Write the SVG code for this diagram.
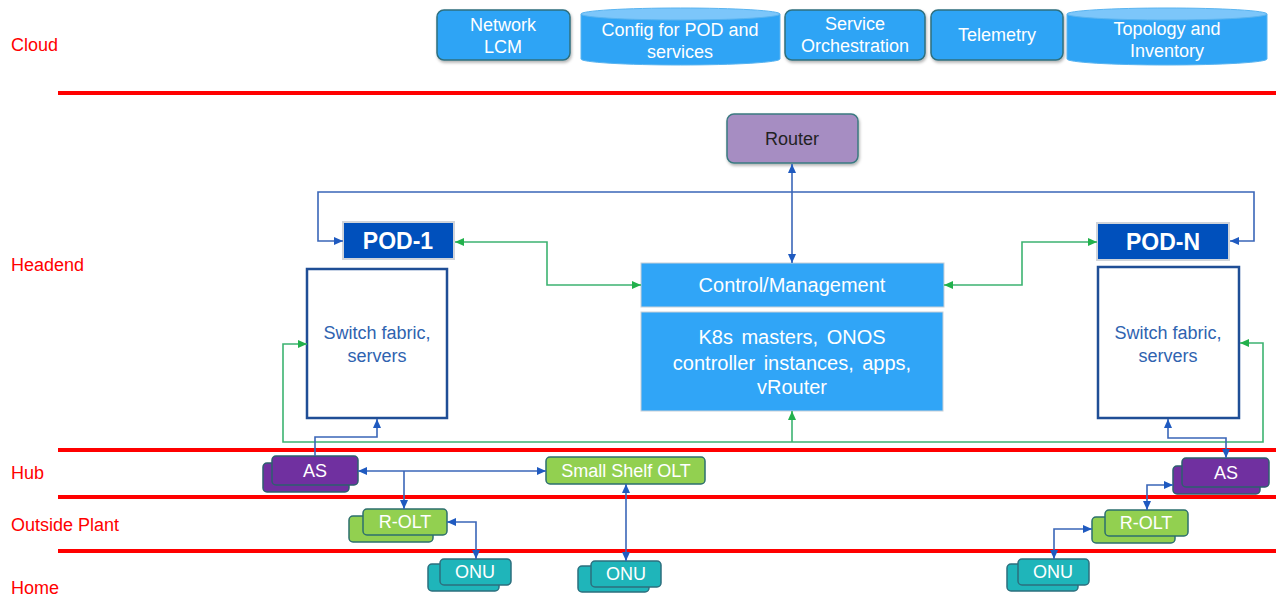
<svg xmlns="http://www.w3.org/2000/svg" width="1276" height="596" viewBox="0 0 1276 596">
<style>
text{font-family:"Liberation Sans",Arial,sans-serif;}
.zone{fill:#FF0000;font-size:18px;}
.red{stroke:#FF0000;stroke-width:4;fill:none;}
.cbox{fill:#2FA4F5;stroke:#2F6F7E;stroke-width:1.5;filter:url(#sh);}
.cyl{fill:#2FA4F5;stroke:#5AB4F0;stroke-width:1;}
.cyltop{fill:#7CC6FA;stroke:#5AB4F0;stroke-width:1;}
.wt{fill:#FFFFFF;font-size:18px;text-anchor:middle;}
.big{fill:#FFFFFF;font-size:20px;text-anchor:middle;}
.pod{fill:#0050BC;stroke:#D0D4DA;stroke-width:2;}
.podt{fill:#FFFFFF;font-size:23px;font-weight:bold;text-anchor:middle;}
.sw{fill:#FFFFFF;stroke:#1F4E96;stroke-width:2.5;}
.swt{fill:#2F63B0;font-size:18px;text-anchor:middle;}
.cm{fill:#30A5F7;stroke:#C8D0D8;stroke-width:1;}
.as{fill:#7030A0;stroke:#2D5F6E;stroke-width:1.5;}
.olt{fill:#92D050;stroke:#2D6F6E;stroke-width:1.5;}
.onu{fill:#1FB5BA;stroke:#2D6F7E;stroke-width:1.5;}
.bl{stroke:#3A66B8;stroke-width:1.6;fill:none;}
.gr{stroke:#3CB371;stroke-width:1.6;fill:none;}
</style>
<defs>
<filter id="sh" x="-10%" y="-10%" width="125%" height="135%">
<feDropShadow dx="1" dy="2" stdDeviation="1.5" flood-color="#000" flood-opacity="0.3"/>
</filter>
<marker id="ab" markerWidth="9" markerHeight="8" refX="9" refY="4" orient="auto-start-reverse" markerUnits="userSpaceOnUse"><path d="M0,0 L9,4 L0,8 z" fill="#1F5AC0"/></marker>
<marker id="ag" markerWidth="9" markerHeight="8" refX="9" refY="4" orient="auto-start-reverse" markerUnits="userSpaceOnUse"><path d="M0,0 L9,4 L0,8 z" fill="#22B14C"/></marker>
</defs>
<rect width="1276" height="596" fill="#FFFFFF"/>

<g id="zones">
<line class="red" x1="58" y1="93" x2="1276" y2="93"/>
<line class="red" x1="58" y1="450" x2="1276" y2="450"/>
<line class="red" x1="58" y1="497" x2="1276" y2="497"/>
<line class="red" x1="58" y1="551" x2="1276" y2="551"/>
<text class="zone" x="11" y="51">Cloud</text>
<text class="zone" x="11" y="271">Headend</text>
<text class="zone" x="11" y="479">Hub</text>
<text class="zone" x="11" y="531">Outside Plant</text>
<text class="zone" x="11" y="594">Home</text>
</g>

<g id="network-lcm">
<rect class="cbox" x="437" y="10" width="133" height="50" rx="7"/>
<text class="wt" x="503" y="31">Network</text>
<text class="wt" x="503" y="53">LCM</text>
</g>
<g id="config">
<path class="cyl" d="M581,14 L581,59 A99.5,6 0 0 0 780,59 L780,14 z"/>
<ellipse class="cyltop" cx="680.5" cy="14" rx="99.5" ry="6"/>
<text class="wt" x="680" y="36">Config for POD and</text>
<text class="wt" x="680" y="58">services</text>
</g>
<g id="service-orch">
<rect class="cbox" x="785" y="10" width="140" height="50" rx="7"/>
<text class="wt" x="855" y="30">Service</text>
<text class="wt" x="855" y="52">Orchestration</text>
</g>
<g id="telemetry">
<rect class="cbox" x="931" y="10" width="132" height="50" rx="7"/>
<text class="wt" x="997" y="41">Telemetry</text>
</g>
<g id="topology">
<path class="cyl" d="M1067,14 L1067,59 A100,6 0 0 0 1267,59 L1267,14 z"/>
<ellipse class="cyltop" cx="1167" cy="14" rx="100" ry="6"/>
<text class="wt" x="1167" y="35">Topology and</text>
<text class="wt" x="1167" y="57">Inventory</text>
</g>

<g id="router">
<rect x="727" y="114" width="131" height="49" rx="7" fill="#A68DC2" stroke="#3B7A80" stroke-width="1.5" filter="url(#sh)"/>
<text x="792" y="145" font-size="18" fill="#222222" text-anchor="middle">Router</text>
</g>

<g id="pod-1">
<rect class="pod" x="343" y="222" width="111" height="37"/>
<text class="podt" x="398" y="249">POD-1</text>
</g>
<g id="switch-1">
<rect class="sw" x="307" y="269" width="140" height="149"/>
<text class="swt" x="377" y="339">Switch fabric,</text>
<text class="swt" x="377" y="362">servers</text>
</g>
<g id="pod-n">
<rect class="pod" x="1097" y="223" width="132" height="37"/>
<text class="podt" x="1163" y="250">POD-N</text>
</g>
<g id="switch-n">
<rect class="sw" x="1098" y="267" width="141" height="151"/>
<text class="swt" x="1168" y="339">Switch fabric,</text>
<text class="swt" x="1168" y="362">servers</text>
</g>

<g id="control">
<rect class="cm" x="641" y="263" width="303" height="44"/>
<text class="big" x="792" y="292">Control/Management</text>
</g>
<g id="k8s">
<rect class="cm" x="641" y="312" width="302" height="99"/>
<text class="big" x="792" y="344" word-spacing="3">K8s masters, ONOS</text>
<text class="big" x="792" y="370" word-spacing="3">controller instances, apps,</text>
<text class="big" x="792" y="394">vRouter</text>
</g>

<g id="as-1">
<rect class="as" x="263" y="463" width="86" height="29" rx="4"/>
<rect class="as" x="272" y="456" width="86" height="29" rx="4"/>
<text class="wt" x="315" y="477">AS</text>
</g>
<g id="small-shelf-olt">
<rect class="olt" x="546" y="457" width="159" height="27" rx="4"/>
<text class="wt" x="626" y="477">Small Shelf OLT</text>
</g>
<g id="as-n">
<rect class="as" x="1173" y="466" width="87" height="28" rx="4"/>
<rect class="as" x="1182" y="458" width="87" height="29" rx="4"/>
<text class="wt" x="1226" y="479">AS</text>
</g>
<g id="r-olt-1">
<rect class="olt" x="349" y="516" width="84" height="26" rx="4"/>
<rect class="olt" x="363" y="509" width="84" height="26" rx="4"/>
<text class="wt" x="405" y="528">R-OLT</text>
</g>
<g id="r-olt-n">
<rect class="olt" x="1092" y="517" width="83" height="26" rx="4"/>
<rect class="olt" x="1105" y="510" width="83" height="26" rx="4"/>
<text class="wt" x="1146" y="529">R-OLT</text>
</g>
<g id="onu-1">
<rect class="onu" x="428" y="564" width="71" height="27" rx="4"/>
<rect class="onu" x="440" y="559" width="71" height="26" rx="4"/>
<text class="wt" x="475" y="578">ONU</text>
</g>
<g id="onu-2">
<rect class="onu" x="578" y="566" width="71" height="26" rx="4"/>
<rect class="onu" x="591" y="561" width="70" height="26" rx="4"/>
<text class="wt" x="626" y="580">ONU</text>
</g>
<g id="onu-n">
<rect class="onu" x="1007" y="564" width="71" height="27" rx="4"/>
<rect class="onu" x="1018" y="559" width="71" height="26" rx="4"/>
<text class="wt" x="1053" y="578">ONU</text>
</g>

<g id="connectors">
<path class="bl" d="M792,164 L792,263" marker-start="url(#ab)" marker-end="url(#ab)"/>
<path class="bl" d="M343,241 L318,241 L318,192 L1254,192 L1254,241 L1230,241" marker-start="url(#ab)" marker-end="url(#ab)"/>
<path class="gr" d="M455,242 L547,242 L547,285 L641,285" marker-start="url(#ag)" marker-end="url(#ag)"/>
<path class="gr" d="M1097,242 L1022,242 L1022,285 L944,285" marker-start="url(#ag)" marker-end="url(#ag)"/>
<path class="gr" d="M307,344 L283,344 L283,442 L1263,442 L1263,343 L1240,343" marker-start="url(#ag)" marker-end="url(#ag)"/>
<path class="gr" d="M792,442 L792,411" marker-end="url(#ag)"/>
<path class="bl" d="M315,456 L315,437 L377,437 L377,419" marker-end="url(#ab)"/>
<path class="bl" d="M1226,458 L1226,438 L1168,438 L1168,419" marker-start="url(#ab)" marker-end="url(#ab)"/>
<path class="bl" d="M358,471 L546,471" marker-start="url(#ab)" marker-end="url(#ab)"/>
<path class="bl" d="M404,471 L404,509" marker-end="url(#ab)"/>
<path class="bl" d="M626,484 L626,561" marker-start="url(#ab)" marker-end="url(#ab)"/>
<path class="bl" d="M476,559 L476,522 L447,522" marker-start="url(#ab)" marker-end="url(#ab)"/>
<path class="bl" d="M1147,510 L1147,485 L1173,485" marker-start="url(#ab)" marker-end="url(#ab)"/>
<path class="bl" d="M1054,559 L1054,529 L1092,529" marker-start="url(#ab)" marker-end="url(#ab)"/>
</g>
</svg>
